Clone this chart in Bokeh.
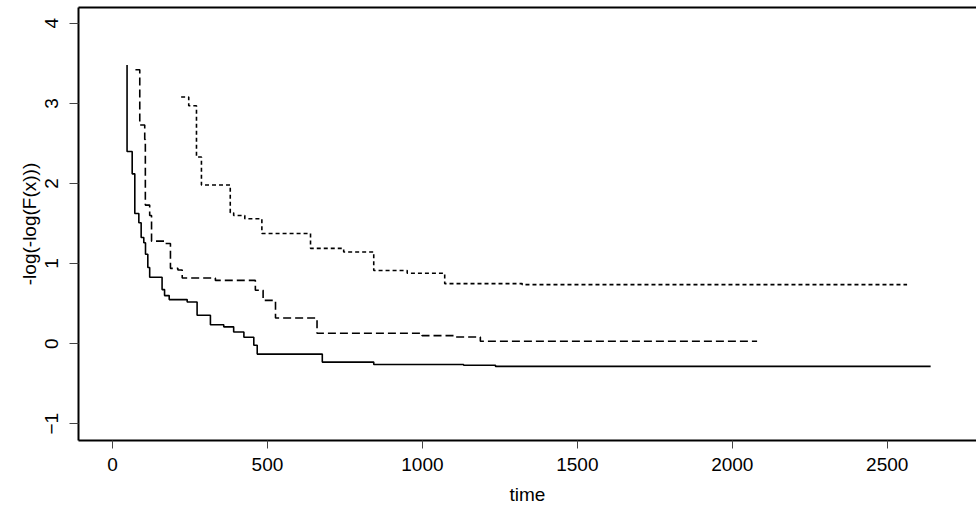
from bokeh.plotting import figure
from bokeh.models import LinearAxis, FixedTicker, Range1d
from bokeh.embed import file_html
from bokeh.resources import INLINE

# Data (step curves, drawn with "after" steps)
solid_x = [47, 47, 63.5, 72, 85, 92.5, 101, 106.5, 114, 120, 160, 168, 183, 241, 273,
           316, 359, 391, 424, 456, 467, 677, 843, 1133, 1236, 2640]
solid_y = [3.48, 2.40, 2.12, 1.625, 1.51, 1.325, 1.26, 1.116, 0.95, 0.83, 0.675, 0.60, 0.55,
           0.52, 0.354, 0.237, 0.21, 0.145, 0.08, -0.02, -0.13, -0.23, -0.26, -0.27, -0.284, -0.284]

dashed_x = [74, 88, 104, 106, 120, 126, 168, 187, 211, 225, 332, 461, 486, 526, 660,
            999, 1107, 1187, 2080]
dashed_y = [3.42, 2.73, 2.55, 1.73, 1.60, 1.28, 1.25, 0.94, 0.92, 0.82, 0.79, 0.666, 0.54,
            0.32, 0.13, 0.10, 0.083, 0.03, 0.03]

dotted_x = [221.5, 246, 271, 287, 380, 391, 427, 482, 639, 746, 843, 951, 1072, 1322, 2564]
dotted_y = [3.08, 2.97, 2.33, 1.98, 1.635, 1.60, 1.56, 1.375, 1.19, 1.145, 0.913, 0.88,
            0.75, 0.737, 0.737]

x_ticks = [0, 500, 1000, 1500, 2000, 2500]
y_ticks = [-1, 0, 1, 2, 3, 4]

FONT = "Liberation Sans"
FS = "19px"

p = figure(width=976, height=510, output_backend="svg", toolbar_location=None,
           x_range=Range1d(-109.7, 2788), y_range=Range1d(-1.209, 4.197),
           min_border_left=78, min_border_right=0, min_border_top=7, min_border_bottom=70,
           x_axis_label="time", y_axis_label="-log(-log(F(x)))")
p.grid.visible = False
p.outline_line_color = None
p.background_fill_color = "white"

for ax, ticks in ((p.xaxis[0], x_ticks), (p.yaxis[0], y_ticks)):
    ax.ticker = FixedTicker(ticks=ticks)
    ax.minor_tick_line_color = None
    ax.major_tick_in = 0
    ax.major_tick_out = 8
    ax.major_tick_line_color = "#444444"
    ax.axis_line_width = 2
    ax.axis_line_color = "black"
    ax.major_label_text_font = FONT
    ax.major_label_text_font_size = FS
    ax.major_label_text_color = "black"
    ax.axis_label_text_font = FONT
    ax.axis_label_text_font_size = FS
    ax.axis_label_text_font_style = "normal"
    ax.axis_label_text_color = "black"

p.xaxis[0].major_label_standoff = 9
p.xaxis[0].axis_label_standoff = 10
p.yaxis[0].major_label_orientation = "vertical"
p.yaxis[0].major_tick_out = 9
p.yaxis[0].major_label_standoff = 11
p.yaxis[0].axis_label_standoff = 3

top = LinearAxis(ticker=FixedTicker(ticks=[]), axis_line_width=2, axis_line_color="black",
                 major_tick_line_color=None, minor_tick_line_color=None,
                 major_label_standoff=0, major_tick_out=0, major_tick_in=0)
p.add_layout(top, "above")

p.step(solid_x, solid_y, mode="after", line_color="black", line_width=1.6)
p.step(dashed_x, dashed_y, mode="after", line_color="black", line_width=1.6, line_dash="8 4")
p.step(dotted_x, dotted_y, mode="after", line_color="black", line_width=1.6, line_dash="4 3")

open("out.html", "w").write(file_html(p, INLINE))
